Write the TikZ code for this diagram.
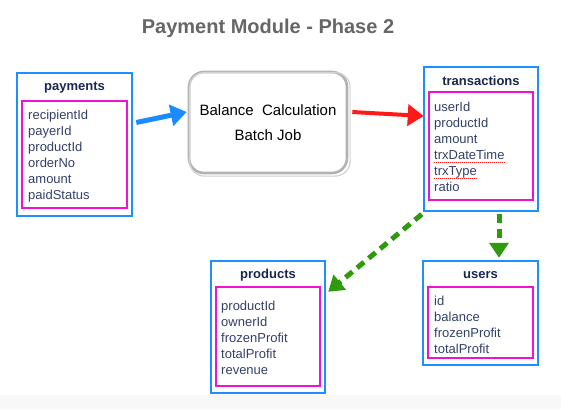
\documentclass[tikz,border=0pt]{standalone}
\usepackage{fontspec}
\setmainfont{Liberation Sans}
\usetikzlibrary{arrows.meta}
\definecolor{boxblue}{HTML}{1E8FFF}
\definecolor{boxmag}{HTML}{F012D2}
\definecolor{fieldtxt}{HTML}{33406A}
\definecolor{titletxt}{HTML}{1A2850}
\definecolor{arrgreen}{HTML}{2E9A0C}
\definecolor{arrred}{HTML}{FF1A1A}
\definecolor{arrblue}{HTML}{1A8CFF}
\definecolor{headgray}{HTML}{666666}
\definecolor{stripgray}{HTML}{F8F8F8}
\begin{document}
\begin{tikzpicture}[x=1pt,y=-1pt,
  outerbox/.style={draw=boxblue,line width=2.5pt,inner sep=0pt},
  innerbox/.style={draw=boxmag,line width=2.5pt,inner sep=0pt},
  tabletitle/.style={font=\fontsize{13}{15}\selectfont\bfseries,text=titletxt,inner sep=0pt},
  fieldtext/.style={font=\fontsize{13}{15}\selectfont,text=fieldtxt,inner sep=0pt,anchor=base west},
  spellline/.style={draw=arrred,line width=1pt,dash pattern=on 1pt off 1pt},
  batchbox/.style={draw=gray!60,line width=2.6pt,rounded corners=15pt,inner sep=0pt,
    font=\fontsize{15}{25}\selectfont,align=center},
  thickarrow/.style={line width=5pt,-{Triangle[length=16pt,width=21pt]}},
  greenarrow/.style={draw=arrgreen,line width=5pt,dash pattern=on 9pt off 6pt,
    -{Triangle[length=15pt,width=19pt]}}
]
\useasboundingbox (0,0) rectangle (561,409);
\fill[white] (0,0) rectangle (561,409);
\fill[stripgray] (0,395) rectangle (561,409);

% heading
\node[font=\fontsize{20}{24}\selectfont\bfseries,text=headgray,inner sep=0pt] (head) at (268,28) {Payment Module - Phase 2};

% payments
\node[outerbox,minimum width=115pt,minimum height=143pt] (pay) at (74.5,144.5) {};
\node[innerbox,minimum width=105pt,minimum height=107pt] (payin) at (74.5,154.5) {};
\node[tabletitle] (paytitle) at (74.5,88) {payments};
\foreach \t [count=\i] in {recipientId,payerId,productId,orderNo,amount,paidStatus}
  \node[fieldtext] (payf\i) at (28,{119.5+16*(\i-1)}) {\t};

% batch job
\node[batchbox,minimum width=158pt,minimum height=101pt] (batch) at (268,122.5)
  {Balance\ \ Calculation\\Batch\ Job};
\draw[gray!35,line width=1.2pt,rounded corners=15pt]
  ([shift={(1.8pt,-1.8pt)}]batch.south west) rectangle ([shift={(1.8pt,-1.8pt)}]batch.north east);

% transactions
\node[outerbox,minimum width=114pt,minimum height=144pt] (trans) at (481,139) {};
\node[innerbox,minimum width=104pt,minimum height=108pt] (transin) at (481,146) {};
\node[tabletitle] (transtitle) at (481,81) {transactions};
\foreach \t [count=\i] in {userId,productId,amount,trxDateTime,trxType,ratio}
  \node[fieldtext] (transf\i) at (434,{111.5+16*(\i-1)}) {\t};
\draw[spellline] ([yshift=-2.5pt]transf4.base west) -- ([yshift=-2.5pt]transf4.base east);
\draw[spellline] ([yshift=-2.5pt]transf5.base west) -- ([yshift=-2.5pt]transf5.base east);

% users
\node[outerbox,minimum width=115pt,minimum height=104pt] (users) at (480.5,313) {};
\node[innerbox,minimum width=105pt,minimum height=71pt] (usersin) at (480.5,322.5) {};
\node[tabletitle] (userstitle) at (480.5,275) {users};
\foreach \t [count=\i] in {id,balance,frozenProfit,totalProfit}
  \node[fieldtext] (usersf\i) at (434,{305.5+16*(\i-1)}) {\t};

% products
\node[outerbox,minimum width=114pt,minimum height=132pt] (prod) at (268,327) {};
\node[innerbox,minimum width=104pt,minimum height=99pt] (prodin) at (268,336.5) {};
\node[tabletitle] (prodtitle) at (268,275) {products};
\foreach \t [count=\i] in {productId,ownerId,frozenProfit,totalProfit,revenue}
  \node[fieldtext] (prodf\i) at (221,{310.5+16*(\i-1)}) {\t};

% connectors
\draw[thickarrow,draw=arrblue] ([xshift=3pt,yshift=22pt]pay.east) -- ([xshift=-1pt,yshift=10.5pt]batch.west);
\draw[thickarrow,draw=arrred,line width=4pt] ([xshift=4pt,yshift=10.5pt]batch.east) -- ([xshift=1pt,yshift=23pt]trans.west);
\draw[greenarrow] ([xshift=18pt,yshift=-2pt]trans.south) -- ([xshift=18.5pt,yshift=2pt]users.north);
\draw[greenarrow] ([xshift=-1pt,yshift=-2pt]trans.south west) -- ([xshift=2pt,yshift=-32pt]prod.north east);
\end{tikzpicture}
\end{document}
